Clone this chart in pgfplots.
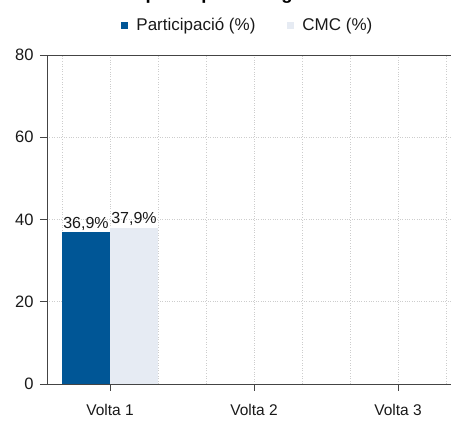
\documentclass[border=0pt]{standalone}
\usepackage{pgfplots}
\pgfplotsset{compat=1.18}
\usepackage{fontspec}
\setmainfont{Liberation Sans}
\definecolor{cblue}{RGB}{0,86,150}
\definecolor{clight}{RGB}{230,235,243}
\definecolor{axgray}{RGB}{68,68,68}
\definecolor{gridgray}{RGB}{205,205,205}
\definecolor{txt}{RGB}{25,25,25}
\begin{document}
\begin{tikzpicture}[x=1pt,y=1pt]
\useasboundingbox (0,0) rectangle (451,421);
\node[anchor=base west, font=\fontsize{18.5}{20}\selectfont\bfseries, text=black, inner sep=0pt] at (16,421.8) {Evolució de la participació en general};
\begin{axis}[
  at={(47pt,37pt)}, anchor=south west,
  scale only axis, width=405pt, height=329pt,
  xmin=-0.4375, xmax=2.375, ymin=0, ymax=80,
  xtick={0,1,2}, xticklabels={Volta 1,Volta 2,Volta 3},
  ytick={0,20,40,60,80},
  minor xtick={-0.3333,0.3333,0.6667,1.3333,1.6667,2.3333},
  xmajorgrids, xminorgrids, ymajorgrids,
  grid style={dotted, gridgray, line width=0.6pt},
  minor grid style={dotted, gridgray, line width=0.6pt},
  axis lines=left,
  axis line style={-, axgray, line width=0.8pt},
  tick style={axgray, line width=0.8pt},
  tick align=outside, major tick length=7pt, minor tick length=0pt,
  /pgf/number format/assume math mode=true,
  ticklabel style={font=\fontsize{16.5}{18}\selectfont, text=txt},
  xticklabel style={font=\fontsize{15.5}{18}\selectfont, yshift=-10pt},
  yticklabel style={xshift=-3pt},
  ybar=0pt, bar width=48pt,
  nodes near coords, point meta=explicit symbolic,
  every node near coord/.append style={font=\fontsize{16}{18}\selectfont, text=txt, inner sep=2pt},
  legend columns=2,
  legend style={draw=none, fill=none, at={(0.496,1.091)}, anchor=center,
    font=\fontsize{17}{20}\selectfont, text=txt,
    /tikz/every odd column/.append style={column sep=6pt},
    /tikz/every even column/.append style={column sep=30pt}},
  legend image code/.code={\fill[#1] (0pt,-3.5pt) rectangle (7pt,3.5pt);},
]
\addplot[fill=cblue, draw=none] coordinates {(0,36.9) [36,9\%]};
\addlegendentry{Participació (\%)}
\addplot[fill=clight, draw=none] coordinates {(0,37.9) [37,9\%]};
\addlegendentry{CMC (\%)}
\draw[axgray, line width=0.8pt] (rel axis cs:0,1) -- (rel axis cs:1,1);
\end{axis}
\end{tikzpicture}
\end{document}
